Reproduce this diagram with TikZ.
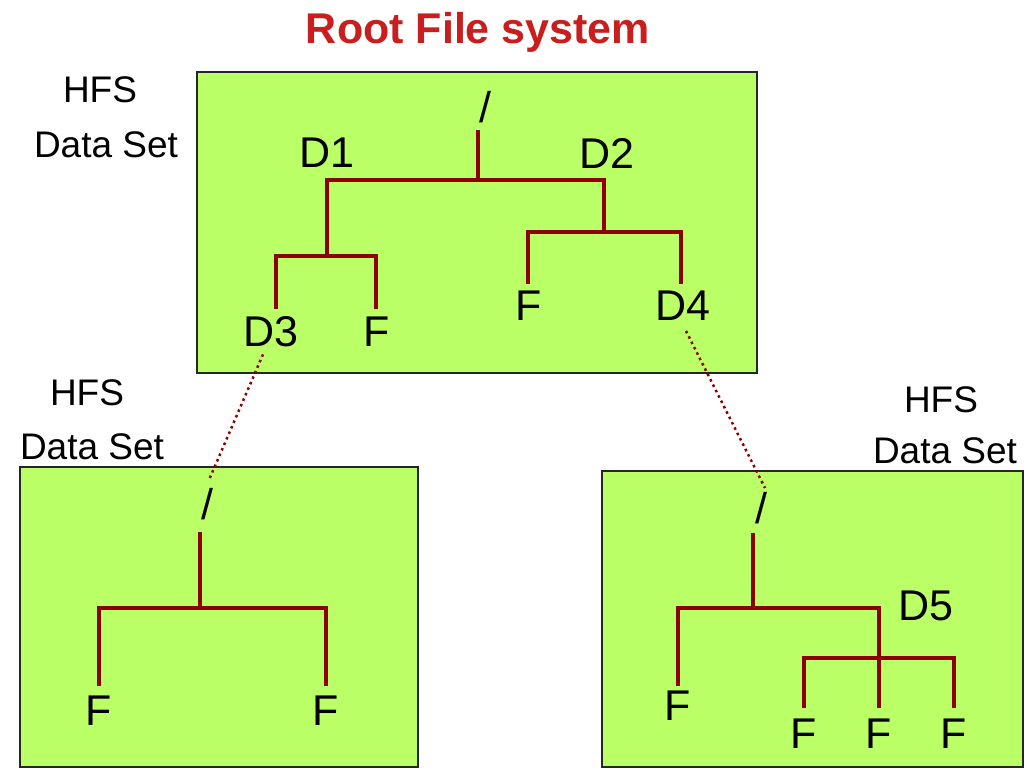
\documentclass[tikz,border=0pt]{standalone}
\usepackage{fontspec}
\setmainfont{Liberation Sans}
\usepackage{tikz}
\usetikzlibrary{positioning}

\definecolor{dsgreen}{RGB}{187,255,102}
\definecolor{treered}{RGB}{140,0,0}
\definecolor{titlered}{RGB}{200,30,30}

\tikzset{
	dataset/.style={draw=black!85, line width=2bp, fill=dsgreen},
	lbl/.style={inner sep=0pt, font=\fontsize{43bp}{50bp}\selectfont},
	dslabel/.style={inner sep=0pt, font=\fontsize{37bp}{44bp}\selectfont},
	branch/.style={draw=treered, line width=3.5bp},
	mount/.style={draw=treered, line width=2.5bp, dash pattern=on 2.5bp off 3.5bp}
}

\begin{document}
\begin{tikzpicture}
	\useasboundingbox (0bp,0bp) rectangle (1027bp,-771bp);

	\node (title) at (478bp,-43bp) [anchor=base, inner sep=0pt, text=titlered, font=\fontsize{43bp}{52bp}\selectfont\bfseries] {Root File system};

	% data sets
	\draw [dataset] (197bp,-72bp) rectangle (757bp,-373bp);
	\draw [dataset] (20bp,-467bp) rectangle (418bp,-767bp);
	\draw [dataset] (602bp,-471bp) rectangle (1023bp,-767bp);

	\node (hfs1) at (100bp,-90bp) [dslabel] {HFS};
	\node (ds1) at (106bp,-145bp) [dslabel] {Data Set};
	\node (hfs2) at (87bp,-393bp) [dslabel] {HFS};
	\node (ds2) at (92bp,-447bp) [dslabel] {Data Set};
	\node (hfs3) at (941bp,-400bp) [dslabel] {HFS};
	\node (ds3) at (945bp,-451bp) [dslabel] {Data Set};

	% root file system
	\node (root) at (485bp,-107bp) [lbl] {/};
	\node (d1) at (327bp,-153bp) [lbl] {D1};
	\node (d2) at (607bp,-153bp) [lbl] {D2};
	\node (d3) at (271bp,-332bp) [lbl] {D3};
	\node (f1) at (377bp,-332bp) [lbl] {F};
	\node (f2) at (529bp,-306bp) [lbl] {F};
	\node (d4) at (683bp,-306bp) [lbl] {D4};

	\coordinate (j0) at (478bp,-180bp);
	\coordinate (j1) at (327bp,-256bp);
	\coordinate (j2) at (604bp,-232bp);

	\draw [branch] ([yshift=-7bp]root.south -| j0) -- (j0);
	\draw [branch] (j1) |- (j0) -| (j2);
	\draw [branch, line width=4.5bp] ([xshift=5bp,yshift=8bp]d3.north) |- (j1) -| ([xshift=-1bp,yshift=8bp]f1.north);
	\draw [branch] ([xshift=-1bp,yshift=7bp]f2.north) |- (j2) -| ([xshift=-2bp,yshift=7bp]d4.north);

	% data set under D3
	\node (r2) at (207bp,-504bp) [lbl] {/};
	\node (f3) at (99bp,-711bp) [lbl] {F};
	\node (f4) at (326bp,-711bp) [lbl] {F};
	\coordinate (j3) at (200bp,-608bp);

	\draw [branch] ([yshift=-12bp]r2.south -| j3) -- (j3);
	\draw [branch] ([yshift=10bp]f3.north) |- (j3) -| ([yshift=10bp]f4.north);

	% data set under D4
	\node (r3) at (761bp,-508bp) [lbl] {/};
	\node (f5) at (678bp,-706bp) [lbl] {F};
	\node (d5) at (926bp,-606bp) [lbl] {D5};
	\node (f6) at (804bp,-734bp) [lbl] {F};
	\node (f7) at (879bp,-734bp) [lbl] {F};
	\node (f8) at (954bp,-734bp) [lbl] {F};
	\coordinate (j4) at (753bp,-608bp);
	\coordinate (j5) at (879bp,-658bp);

	\draw [branch] ([yshift=-9bp]r3.south -| j4) -- (j4);
	\draw [branch] ([yshift=5bp]f5.north) |- (j4) -| ([yshift=11bp]f7.north);
	\draw [branch] ([yshift=11bp]f6.north) |- (j5) -| ([yshift=11bp]f8.north);

	% mount points
	\draw [mount] ([xshift=-8bp,yshift=-7bp]d3.south) -- ([xshift=2bp,yshift=8bp]r2.north);
	\draw [mount] ([xshift=3bp,yshift=-10bp]d4.south) -- ([xshift=4bp,yshift=4bp]r3.north);

\end{tikzpicture}
\end{document}
